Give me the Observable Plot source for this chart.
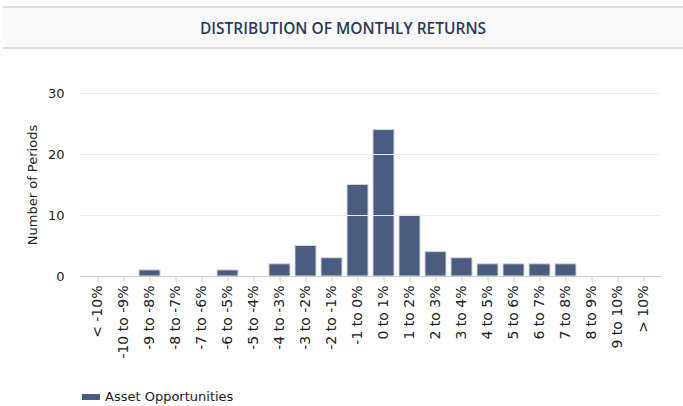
<!DOCTYPE html>
<html>
<head>
<meta charset="utf-8">
<script src="https://cdn.jsdelivr.net/npm/d3@7"></script>
<script src="https://cdn.jsdelivr.net/npm/@observablehq/plot@0.6"></script>
<style>
  html, body { margin: 0; padding: 0; background: #fff; }
  #title {
    margin: 6px 0 0 3px;
    height: 39px;
    line-height: 40px;
    border-top: 2px solid #dcdcdc;
    border-bottom: 2px solid #dcdcdc;
    background: #f9f9f9;
    text-align: center;
    font-family: "Open Sans", sans-serif;
    font-weight: 600;
    font-size: 15.5px;
    color: #2b3b5c;
  }
  #legend {
    display: flex; align-items: center;
    margin: 24px 0 0 82px;
    font-family: "DejaVu Sans", sans-serif; font-size: 13px; color: #222;
  }
  #legend .sw { width: 18px; height: 6px; background: #4a5d80; margin-right: 5px; }
</style>
</head>
<body>
<div id="title">DISTRIBUTION OF MONTHLY RETURNS</div>
<div id="chart"></div>
<div id="legend"><span class="sw"></span><span>Asset Opportunities</span></div>
<script>
const categories = ["< -10%", "-10 to -9%", "-9 to -8%", "-8 to -7%", "-7 to -6%", "-6 to -5%", "-5 to -4%", "-4 to -3%", "-3 to -2%", "-2 to -1%", "-1 to 0%", "0 to 1%", "1 to 2%", "2 to 3%", "3 to 4%", "4 to 5%", "5 to 6%", "6 to 7%", "7 to 8%", "8 to 9%", "9 to 10%", "> 10%"];
const counts = [0, 0, 1, 0, 0, 1, 0, 2, 5, 3, 15, 24, 10, 4, 3, 2, 2, 2, 2, 0, 0, 0];
const yTicks = [0, 10, 20, 30];
const seriesName = "Asset Opportunities";

const data = categories.map((c, i) => ({range: c, count: counts[i]}));

const chart = Plot.plot({
  width: 683,
  height: 316,
  marginTop: 44,
  marginBottom: 89,
  marginLeft: 80,
  marginRight: 22,
  style: {fontFamily: "DejaVu Sans, sans-serif", fontSize: "13px", color: "#222", background: "transparent"},
  x: {domain: categories, padding: 0.18, label: null},
  y: {domain: [0, 30], label: null},
  marks: [
    Plot.barY(data, {x: "range", y: "count", fill: "#4a5d80", stroke: "#d6d6d6", strokeWidth: 1}),
    Plot.ruleY(yTicks.filter(d => d > 0), {stroke: "#ececec", strokeWidth: 1}),
    Plot.ruleY([0], {stroke: "#cccccc", strokeWidth: 1}),
    Plot.axisX({tickRotate: -90, tickSize: 5, tickPadding: 4, stroke: "#cccccc", fontSize: 14, label: null}),
    Plot.axisY({ticks: yTicks, tickSize: 0, tickPadding: 16, fontSize: 13, label: null}),
    Plot.text(["Number of Periods"], {frameAnchor: "left", dx: -48, rotate: -90, textAnchor: "middle", fontSize: 13, fill: "#222"})
  ]
});
document.getElementById("chart").appendChild(chart);
</script>
</body>
</html>
